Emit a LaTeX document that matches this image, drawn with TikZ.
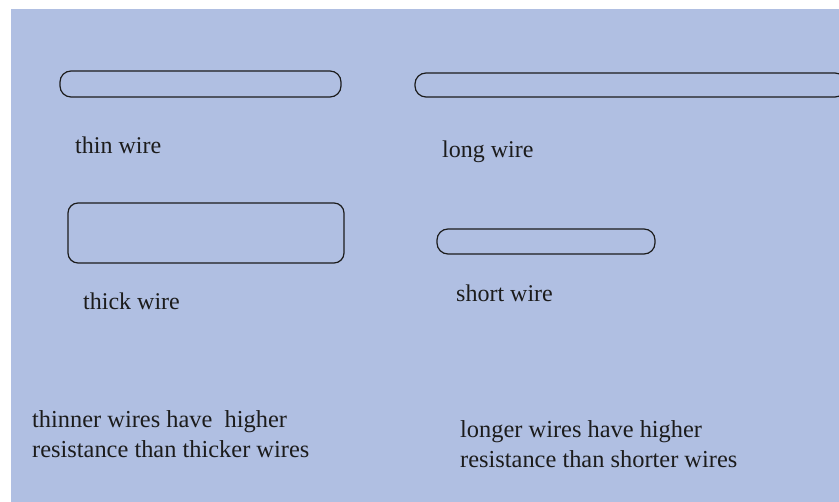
\documentclass[tikz,border=0pt]{standalone}
\usepackage{fontspec}
\setmainfont{Liberation Serif}
\usepackage{xcolor}
\usepackage{tikz}
\usetikzlibrary{positioning}
\definecolor{bgc}{HTML}{B0BFE2}
\definecolor{inkc}{HTML}{1C1C1C}
\tikzset{
  wire/.style={draw=inkc,line width=1.2pt,rounded corners=11pt},
  lbl/.style={anchor=base west,inner sep=0pt,text=inkc,font=\fontsize{24}{30}\selectfont},
  note/.style={lbl,align=left,font=\fontsize{24.4}{30}\selectfont}
}
\begin{document}
\begin{tikzpicture}[x=1pt,y=-1pt]
\useasboundingbox (0,0) rectangle (839,502);
\fill[white] (0,0) rectangle (839,502);
\fill[bgc] (11,9) rectangle (839,502);
% wires
\draw[wire] (60,71) rectangle (341,97);
\draw[wire] (415,73) rectangle (846,97);
\draw[wire,rounded corners=10pt] (68,203) rectangle (344,263);
\draw[wire] (437,229) rectangle (655,254);
% labels
\node[lbl] (thin) at (75,154) {thin wire};
\node[lbl] (long) at (442,158) {long wire};
\node[lbl] (thick) at (83,310) {thick wire};
\node[lbl] (short) at (456,302) {short wire};
\node[note] (thinnote) at (32,458) {thinner wires have\ \ higher\\resistance than thicker wires};
\node[note] (longnote) at (460,468) {longer wires have higher\\resistance than shorter wires};
\end{tikzpicture}
\end{document}
